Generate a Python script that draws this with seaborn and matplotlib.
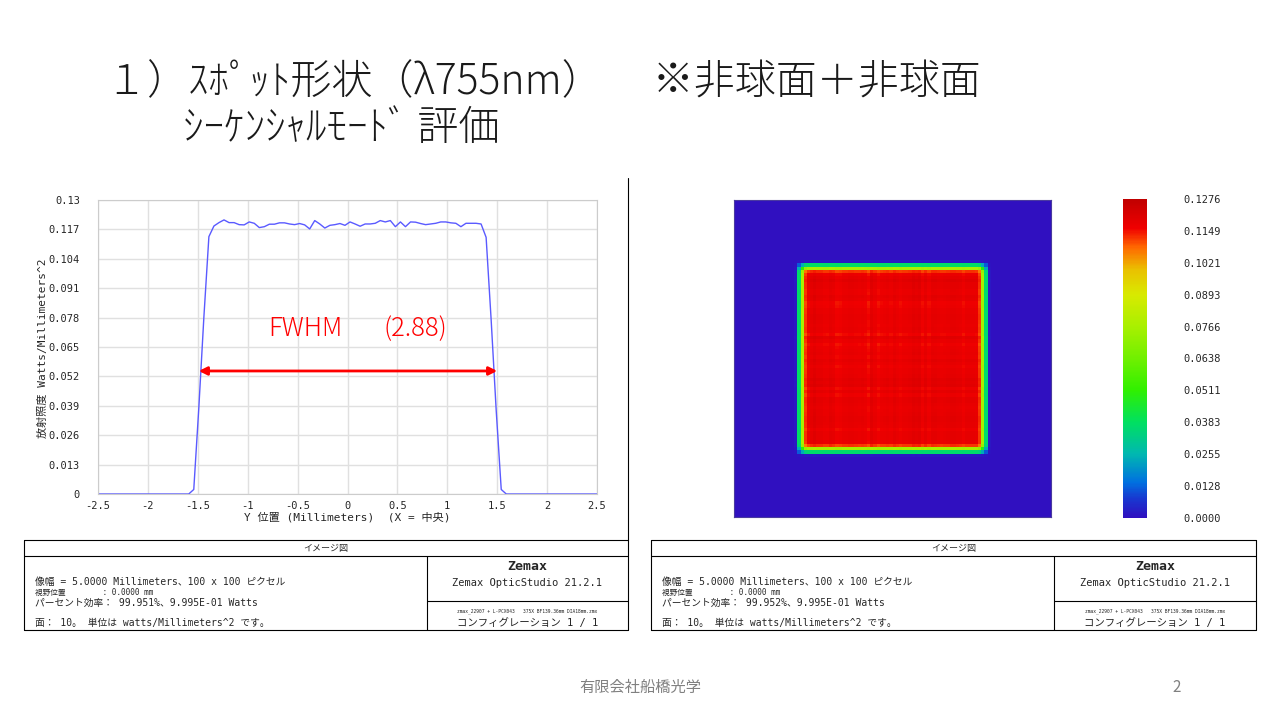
import numpy as np
import matplotlib
matplotlib.use("Agg")
import matplotlib.pyplot as plt
import seaborn as sns
from matplotlib.colors import LinearSegmentedColormap
from matplotlib.lines import Line2D

# data
irradiance = ([0.0] * 19 +
              [0.002, 0.038, 0.078, 0.1138, 0.1185, 0.1200, 0.1212, 0.1200, 0.1200, 0.1191,
               0.1190, 0.1203, 0.1197, 0.1178, 0.1182, 0.1193, 0.1193, 0.1199, 0.1199, 0.1194,
               0.1191, 0.1196, 0.1190, 0.1172, 0.1209, 0.1194, 0.1176, 0.1188, 0.1191, 0.1196,
               0.1188, 0.1203, 0.1194, 0.1184, 0.1194, 0.1194, 0.1197, 0.1209, 0.1203, 0.1209,
               0.1182, 0.1203, 0.1182, 0.1203, 0.1202, 0.1196, 0.1191, 0.1194, 0.1197, 0.1203,
               0.1203, 0.1199, 0.1197, 0.1182, 0.1197, 0.1197, 0.1197, 0.1194, 0.1135, 0.077,
               0.037, 0.002] +
              [0.0] * 19)
y_pos = np.linspace(-2.5, 2.5, len(irradiance))

xtick_vals = [-2.5, -2, -1.5, -1, -0.5, 0, 0.5, 1, 1.5, 2, 2.5]
xtick_labels = ["-2.5", "-2", "-1.5", "-1", "-0.5", "0", "0.5", "1", "1.5", "2", "2.5"]
ytick_vals = [0, 0.013, 0.026, 0.039, 0.052, 0.065, 0.078, 0.091, 0.104, 0.117, 0.13]
ytick_labels = ["0", "0.013", "0.026", "0.039", "0.052", "0.065", "0.078", "0.091", "0.104", "0.117", "0.13"]

cbar_vals = [0.0, 0.01276, 0.02552, 0.03828, 0.05104, 0.0638, 0.07656, 0.08932, 0.10208, 0.11484, 0.1276]
cbar_labels = ["0.0000", "0.0128", "0.0255", "0.0383", "0.0511", "0.0638",
               "0.0766", "0.0893", "0.1021", "0.1149", "0.1276"]

fwhm_left, fwhm_right, fwhm_level = -1.49, 1.50, 0.0544

efficiency = ["99.951%、9.995E-01 Watts", "99.952%、9.995E-01 Watts"]

# 2D spot map built from the line profile
prof = np.array(irradiance)
spot_map = np.outer(prof, prof) / prof.max()

sns.set_style("white")
jp = ["Noto Sans CJK JP", "DejaVu Sans"]
mono = ["DejaVu Sans Mono", "Noto Sans CJK JP"]
plt.rcParams["font.family"] = jp

fig = plt.figure(figsize=(12.8, 7.2), dpi=100)


def fx(px):
    return px / 1280


def fy(py):
    return 1 - py / 720


def hline(x0, x1, y):
    fig.add_artist(Line2D([fx(x0), fx(x1)], [fy(y), fy(y)], transform=fig.transFigure,
                          color="black", lw=0.8))


def vline(x, y0, y1):
    fig.add_artist(Line2D([fx(x), fx(x)], [fy(y0), fy(y1)], transform=fig.transFigure,
                          color="black", lw=0.8))


# title
fig.text(fx(106), fy(82), "１）ｽﾎﾟｯﾄ形状（λ755nm） 　※非球面＋非球面", fontsize=29.5,
         va="center", family=jp, fontweight="light", color="#1a1a1a")
fig.text(fx(183), fy(128), "ｼｰｹﾝｼｬﾙﾓｰﾄﾞ 評価", fontsize=29.5, va="center", family=jp,
         fontweight="light", color="#1a1a1a")

# left: line profile
ax = fig.add_axes([fx(98), fy(494), 499 / 1280, 294 / 720])
sns.lineplot(x=y_pos, y=irradiance, ax=ax, color="#5a5aff", linewidth=1.0)
ax.set_xlim(-2.5, 2.5)
ax.set_ylim(0, 0.13)
ax.set_xticks(xtick_vals)
ax.set_xticklabels(xtick_labels, family=mono, fontsize=7.5)
ax.set_yticks(ytick_vals)
ax.set_yticklabels(ytick_labels, family=mono, fontsize=7.5)
ax.tick_params(axis="both", length=0)
ax.tick_params(axis="y", pad=13)
ax.tick_params(axis="x", pad=5)
ax.grid(True, color="#e0e0e0", lw=1)
for s in ax.spines.values():
    s.set_color("#cccccc")
ax.set_xlabel("")
ax.set_ylabel("")
fig.text(fx(347), fy(517), "Y 位置 (Millimeters)  (X = 中央)", ha="center", va="center",
         fontsize=8, family=mono)
fig.text(fx(43), fy(348), "放射照度 Watts/Millimeters^2", rotation=90, ha="center", va="center",
         fontsize=8, family=mono)

ax.annotate("", xy=(fwhm_left, fwhm_level), xytext=(fwhm_right, fwhm_level),
            arrowprops=dict(arrowstyle="<|-|>", color="red", lw=2, mutation_scale=12,
                            shrinkA=0, shrinkB=0))
ax.text(-0.79, 0.073, "FWHM", color="red", fontsize=18.5, va="center", family=jp,
        fontweight="light")
ax.text(0.365, 0.073, "(2.88)", color="red", fontsize=18.5, va="center", family=jp,
        fontweight="light")

vline(628, 178, 540)

# right: spot map
zemax_cmap = LinearSegmentedColormap.from_list("zemax", [
    (0.00, "#3010c0"), (0.06, "#1838d0"), (0.11, "#0070e0"), (0.20, "#00b8b0"),
    (0.30, "#00e060"), (0.40, "#30f000"), (0.50, "#70f000"), (0.60, "#a8f000"),
    (0.70, "#d8ea00"), (0.78, "#eac000"), (0.85, "#ff6800"), (0.91, "#f00000"),
    (1.00, "#c00000")])

ax2 = fig.add_axes([fx(734), fy(517), 317 / 1280, 317 / 720])
cax = fig.add_axes([fx(1123), fy(518), 24 / 1280, 319 / 720])
sns.heatmap(spot_map, ax=ax2, cmap=zemax_cmap, vmin=0, vmax=0.1276, cbar_ax=cax,
            xticklabels=False, yticklabels=False, cbar_kws={"ticks": cbar_vals})
for s in ax2.spines.values():
    s.set_visible(True)
    s.set_color("#4a3aa0")
    s.set_linewidth(0.8)
cax.set_yticks(cbar_vals)
cax.set_yticklabels(cbar_labels, family=mono, fontsize=7.5)
cax.tick_params(length=0, pad=26)
cbar = ax2.collections[0].colorbar
if cbar is not None:
    cbar.outline.set_visible(False)
for s in cax.spines.values():
    s.set_visible(False)


# info tables under both panels
def draw_table(x0, x1, xdiv, eff):
    hline(x0, x1, 540)
    hline(x0, x1, 556)
    hline(x0, x1, 630)
    vline(x0, 540, 630)
    vline(x1, 540, 630)
    vline(xdiv, 556, 630)
    hline(xdiv, x1, 601)
    fig.text(fx((x0 + x1) / 2), fy(548), "イメージ図", ha="center", va="center", fontsize=6.5, family=jp)
    tx = x0 + 11
    fig.text(fx(tx), fy(582), "像幅 = 5.0000 Millimeters、100 x 100 ピクセル", va="center",
             fontsize=7, family=mono)
    fig.text(fx(tx), fy(592), "視野位置        : 0.0000 mm", va="center", fontsize=5.5, family=mono)
    fig.text(fx(tx), fy(603), "パーセント効率： " + eff, va="center", fontsize=7, family=mono)
    fig.text(fx(tx), fy(623), "面： 10。 単位は watts/Millimeters^2 です。", va="center",
             fontsize=7, family=mono)
    cx = (xdiv + x1) / 2
    fig.text(fx(cx), fy(566), "Zemax", ha="center", va="center", fontsize=9.5, family=mono,
             fontweight="bold")
    fig.text(fx(cx), fy(583), "Zemax OpticStudio 21.2.1", ha="center", va="center", fontsize=7.5,
             family=mono)
    fig.text(fx(cx), fy(611), "zmax_22907 + L-PCX043   375X BF139.36mm DIA18mm.zmx", ha="center",
             va="center", fontsize=3.3, family=mono)
    fig.text(fx(cx), fy(623), "コンフィグレーション 1 / 1", ha="center", va="center", fontsize=7.5,
             family=mono)


draw_table(24, 628, 427, efficiency[0])
draw_table(651, 1256, 1054, efficiency[1])

# footer
fig.text(0.5, fy(687), "有限会社船橋光学", ha="center", va="center", fontsize=11, color="#808080",
         family=jp)
fig.text(fx(1177), fy(687), "2", ha="center", va="center", fontsize=11, color="#808080", family=jp)

fig.savefig("out.png", dpi=100)
